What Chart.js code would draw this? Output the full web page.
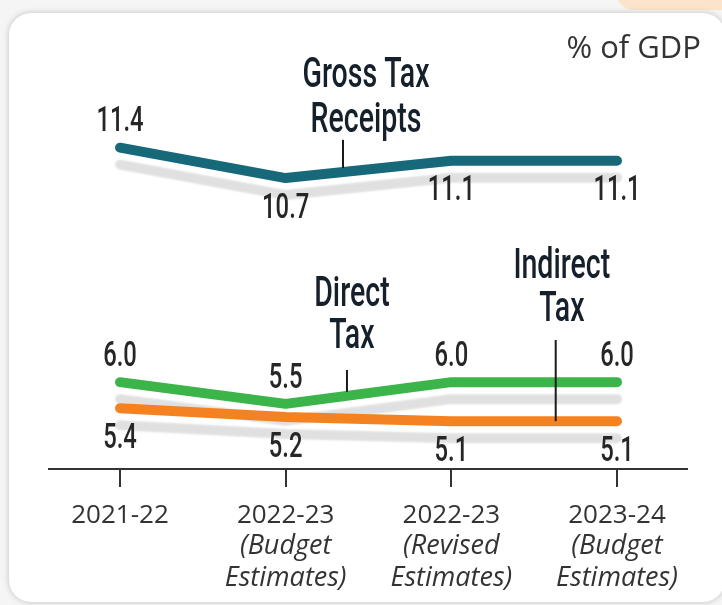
<!DOCTYPE html>
<html>
<head>
<meta charset="utf-8">
<script src="https://cdn.jsdelivr.net/npm/chart.js@4/dist/chart.umd.min.js"></script>
<style>
  html, body { margin: 0; padding: 0; }
  body { width: 722px; height: 605px; background: #f5f5f5; position: relative; overflow: hidden; }
  .peach { position: absolute; left: 616px; top: -30px; width: 140px; height: 40px; border-radius: 18px; background: #fce4cc; }
  .card { position: absolute; left: 9px; top: 13px; width: 716px; height: 589px; border-radius: 22px; background: #fff; box-shadow: 0 0 6px rgba(0,0,0,0.22); }
  canvas { position: absolute; left: 0; top: 0; }
</style>
</head>
<body>
<div class="peach"></div>
<div class="card"></div>
<canvas id="chart" width="722" height="605"></canvas>
<script>
const years = ["2021-22", "2022-23", "2022-23", "2023-24"];
const yearNotes = [[], ["(Budget", "Estimates)"], ["(Revised", "Estimates)"], ["(Budget", "Estimates)"]];

const grossTax = [11.4, 10.7, 11.1, 11.1];
const directTax = [6.0, 5.5, 6.0, 6.0];
const indirectTax = [5.4, 5.2, 5.1, 5.1];

const unitLabel = "% of GDP";

// series name callouts, placed in axis units
const callouts = [
  { lines: ["Gross Tax", "Receipts"], x: 1.485, y: [13.03, 12.01], pointerX: 1.346, pointerTop: 11.58, series: 0 },
  { lines: ["Direct", "Tax"], x: 1.40, y: [8.0, 7.02], pointerX: 1.37, pointerTop: 6.28, series: 1 },
  { lines: ["Indirect", "Tax"], x: 2.667, y: [8.65, 7.64], pointerX: 2.63, pointerTop: 6.97, series: 2 }
];

const toPoints = arr => arr.map((v, i) => ({ x: i, y: v }));

function condensedText(ctx, text, x, y, size, weight, color) {
  ctx.save();
  ctx.font = weight + " " + size + "px Roboto";
  ctx.fillStyle = color;
  ctx.textAlign = "center";
  ctx.textBaseline = "middle";
  ctx.translate(x, y);
  ctx.scale(0.68, 1);
  ctx.fillText(text, 0, 0);
  ctx.restore();
}

const lineShadow = {
  id: "lineShadow",
  beforeDatasetDraw(chart) {
    const ctx = chart.ctx;
    ctx.save();
    ctx.shadowColor = "rgba(0,0,0,0.12)";
    ctx.shadowOffsetY = 17;
    ctx.shadowBlur = 2;
  },
  afterDatasetDraw(chart) {
    chart.ctx.restore();
  }
};

const labelsAndNotes = {
  id: "labelsAndNotes",
  afterDatasetsDraw(chart) {
    const ctx = chart.ctx;
    const xs = chart.scales.x, ys = chart.scales.y;

    // value labels
    chart.data.datasets.forEach((ds, di) => {
      const meta = chart.getDatasetMeta(di);
      meta.data.forEach((pt, i) => {
        const above = ds.labelPos[i] === "above";
        const y = above ? pt.y - 25 : pt.y + 31;
        condensedText(ctx, ds.data[i].y.toFixed(1), pt.x, y, 35, 500, "#262626");
      });
    });

    // callouts
    callouts.forEach(c => {
      const cx = xs.getPixelForValue(c.x);
      c.lines.forEach((t, i) => condensedText(ctx, t, cx, ys.getPixelForValue(c.y[i]), 42, 500, "#15202b"));
      const data = chart.data.datasets[c.series].data;
      const i0 = Math.floor(c.pointerX);
      const f = c.pointerX - i0;
      const v = data[i0].y + (data[i0 + 1].y - data[i0].y) * f;
      const px = xs.getPixelForValue(c.pointerX);
      ctx.save();
      ctx.strokeStyle = "#1a1a1a";
      ctx.lineWidth = 2;
      ctx.beginPath();
      ctx.moveTo(px, ys.getPixelForValue(c.pointerTop));
      ctx.lineTo(px, ys.getPixelForValue(v) - (c.series === 2 ? 0 : 4));
      ctx.stroke();
      ctx.restore();
    });
  },
  afterDraw(chart) {
    const ctx = chart.ctx;
    const xs = chart.scales.x;
    ctx.save();
    ctx.fillStyle = "#333";
    ctx.textAlign = "center";
    ctx.textBaseline = "alphabetic";
    years.forEach((yr, i) => {
      const x = xs.getPixelForValue(i);
      ctx.font = "26px 'Open Sans'";
      ctx.fillText(yr, x, 523);
      ctx.font = "italic 27px 'Open Sans'";
      yearNotes[i].forEach((t, j) => ctx.fillText(t, x, 554 + j * 32));
    });
    ctx.font = "31px 'Open Sans'";
    ctx.textAlign = "right";
    ctx.fillText(unitLabel, 701, 58);
    ctx.restore();
  }
};

new Chart(document.getElementById("chart"), {
  type: "line",
  data: {
    datasets: [
      { label: "Gross Tax Receipts", data: toPoints(grossTax), borderColor: "#17697a", order: 2,
        labelPos: ["above", "below", "below", "below"] },
      { label: "Direct Tax", data: toPoints(directTax), borderColor: "#3bb44a", order: 1,
        labelPos: ["above", "above", "above", "above"] },
      { label: "Indirect Tax", data: toPoints(indirectTax), borderColor: "#f58220", order: 0,
        labelPos: ["below", "below", "below", "below"] }
    ]
  },
  options: {
    responsive: false,
    animation: false,
    events: [],
    layout: { padding: { left: 49, right: 35, top: 0, bottom: 118 } },
    elements: {
      line: { borderWidth: 10, borderCapStyle: "round", borderJoinStyle: "round", tension: 0 },
      point: { radius: 0 }
    },
    plugins: { legend: { display: false }, tooltip: { enabled: false } },
    scales: {
      x: {
        type: "linear",
        min: -0.4286,
        max: 3.4225,
        afterBuildTicks: s => { s.ticks = years.map((_, i) => ({ value: i })); },
        ticks: { display: false },
        grid: { display: true, drawOnChartArea: false, drawTicks: true, tickLength: 18, lineWidth: 2, color: "#333" },
        border: { display: true, width: 2, color: "#333" }
      },
      y: { display: false, min: 4.0, max: 14.8 }
    }
  },
  plugins: [lineShadow, labelsAndNotes]
});
</script>
</body>
</html>
